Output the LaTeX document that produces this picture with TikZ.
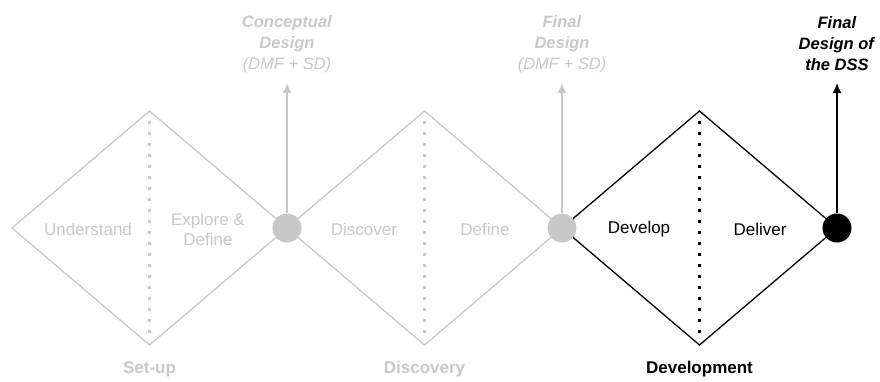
\documentclass[tikz,border=0pt]{standalone}
\usepackage{fontspec}
\setmainfont{Liberation Sans}
\usetikzlibrary{arrows.meta,calc}
\definecolor{faded}{RGB}{200,200,200}
\definecolor{ink}{RGB}{0,0,0}

\begin{document}
\begin{tikzpicture}[x=1pt,y=-1pt,
  edge/.style={line width=1.3pt, line join=miter},
  divider/.style={line width=2.6pt, dash pattern=on 2.6pt off 8.4pt},
  milestone/.style={circle, minimum size=29pt, inner sep=0pt},
  outcome/.style={line width=1.6pt, -{Latex[length=10pt,width=9pt]}},
  activity/.style={font=\fontsize{17}{20}\selectfont, align=center, inner sep=0pt},
  phase/.style={font=\fontsize{17}{20}\selectfont\bfseries, inner sep=0pt},
  result/.style={font=\fontsize{16.5}{21}\selectfont, align=center, inner sep=0pt},
]
\useasboundingbox (0,0) rectangle (880,381);

% diamond corners (left, top, bottom) and shared right corners
\coordinate (L1) at (12,228);
\coordinate (T1) at (149.5,111);  \coordinate (B1) at (149.5,345);
\coordinate (M1) at (287,228);
\coordinate (T2) at (424.5,111);  \coordinate (B2) at (424.5,345);
\coordinate (M2) at (562,228);
\coordinate (T3) at (699.5,111);  \coordinate (B3) at (699.5,345);
\coordinate (M3) at (837,228);

% outcome arrow ends
\coordinate (A1) at (287,83);
\coordinate (A2) at (562,83);
\coordinate (A3) at (837,83);

% set-up diamond
\draw[edge, faded] (L1) -- (T1) -- (M1) -- (B1) -- cycle;
\draw[divider, faded] ($(T1)+(0,10)$) -- ($(B1)+(0,-12)$);
% discovery diamond
\draw[edge, faded] (M1) -- (T2) -- (M2) -- (B2) -- cycle;
\draw[divider, faded] ($(T2)+(0,10)$) -- ($(B2)+(0,-12)$);
% development diamond
\draw[edge, ink] (M2) -- (T3) -- (M3) -- (B3) -- cycle;
\draw[divider, ink] ($(T3)+(0,10)$) -- ($(B3)+(0,-12)$);

% milestones
\node[milestone, fill=faded] (m1) at (M1) {};
\node[milestone, fill=faded] (m2) at (M2) {};
\node[milestone, fill=ink] (m3) at (M3) {};

% outcome arrows
\draw[outcome, faded] (m1) -- (A1);
\draw[outcome, faded] (m2) -- (A2);
\draw[outcome, ink] (m3) -- (A3);

% outcome labels
\node[result, text=faded] (r1) at (287,44) {\textbf{\textit{Conceptual}}\\\textbf{\textit{Design}}\\\textit{(DMF + SD)}};
\node[result, text=faded] (r2) at (562,44) {\textbf{\textit{Final}}\\\textbf{\textit{Design}}\\\textit{(DMF + SD)}};
\node[result, text=ink] (r3) at (837,44) {\textbf{\textit{Final}}\\\textbf{\textit{Design of}}\\\textbf{\textit{the DSS}}};

% activities
\node[activity, text=faded] (a1) at (88,229) {Understand};
\node[activity, text=faded] (a2) at (208,229) {Explore \&\\Define};
\node[activity, text=faded] (a3) at (364,229) {Discover};
\node[activity, text=faded] (a4) at (485,229) {Define};
\node[activity, text=ink] (a5) at (639,229) {Develop};
\node[activity, text=ink] (a6) at (760,229) {Deliver};

% phases
\node[phase, text=faded] (p1) at (149.5,369) {Set-up};
\node[phase, text=faded] (p2) at (424.5,369) {Discovery};
\node[phase, text=ink] (p3) at (699.5,369) {Development};
\end{tikzpicture}
\end{document}
